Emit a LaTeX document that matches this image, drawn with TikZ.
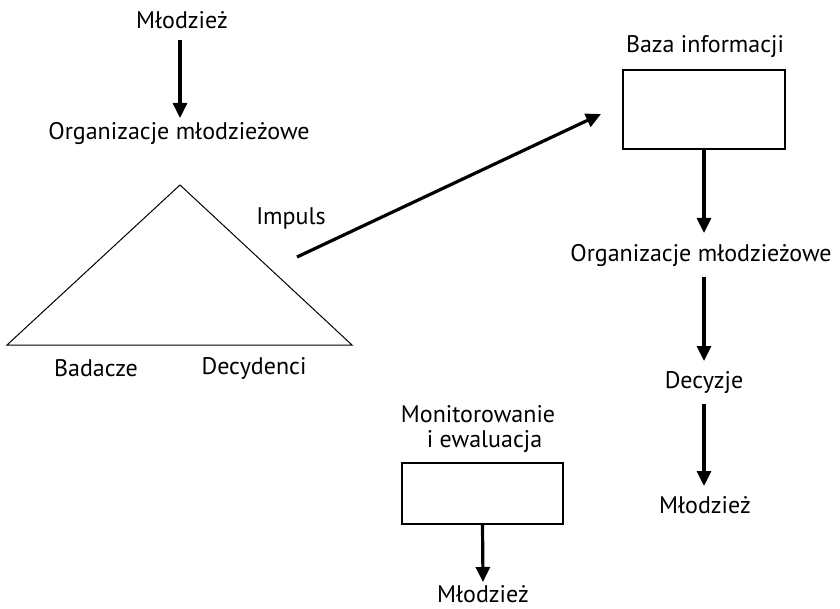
\documentclass[tikz,border=0pt]{standalone}
\usepackage{fontspec}
\setmainfont{PT Sans}
\usetikzlibrary{arrows.meta}
\begin{document}
\begin{tikzpicture}[x=1pt,y=-1pt,
  lbl/.style={font=\fontsize{24}{25}\selectfont, inner sep=0pt, align=center},
  flow/.style={line width=3.2pt, -{Triangle[length=15pt,width=14pt]}},
  boxst/.style={draw, line width=1.3pt, minimum width=162pt, minimum height=79pt, inner sep=0pt},
  thin/.style={line width=1pt}]
\useasboundingbox (0,0) rectangle (840,609);
% left column
\node[lbl] (m1) at (182,20) {Młodzież};
\node[lbl] (o1) at (179,134) {Organizacje młodzieżowe};
\coordinate (a1s) at (180,40);
\coordinate (a1e) at (180,118);
\draw[flow] (a1s) -- (a1e);
% triangle
\coordinate (apex) at (180,185);
\coordinate (bl) at (7,345);
\coordinate (br) at (352,345);
\draw[thin, line join=miter] (bl) -- (apex) -- (br) -- cycle;
\node[lbl] (bad) at (96,368) {Badacze};
\node[lbl] (dec) at (254,368) {Decydenci};
\node[lbl] (imp) at (291,219) {Impuls};
% right column
\node[lbl] (baza) at (705,47) {Baza informacji};
\node[boxst] (b1) at (704,109.5) {};
\coordinate (istart) at (297,257);
\coordinate (iend) at (601,114);
\draw[flow] (istart) -- (iend);
\node[lbl] (o2) at (701,256) {Organizacje młodzieżowe};
\coordinate (a2e) at (704,233);
\draw[flow] (b1.south) -- (a2e);
\node[lbl] (dz) at (704,383) {Decyzje};
\coordinate (a3s) at (704,277);
\coordinate (a3e) at (704,361);
\draw[flow] (a3s) -- (a3e);
\node[lbl] (m2) at (705,505) {Młodzież};
\coordinate (a4s) at (704,404);
\coordinate (a4e) at (704,486);
\draw[flow] (a4s) -- (a4e);
% monitoring
\node[lbl, align=left] (mon) at (478,429) {Monitorowanie\\\hspace*{26pt}i ewaluacja};
\node[boxst, minimum width=161pt, minimum height=61pt] (b2) at (482.5,493.5) {};
\node[lbl] (m3) at (483,594) {Młodzież};
\coordinate (a5e) at (483,582);
\draw[flow] (b2.south) -- (a5e);
\end{tikzpicture}
\end{document}
